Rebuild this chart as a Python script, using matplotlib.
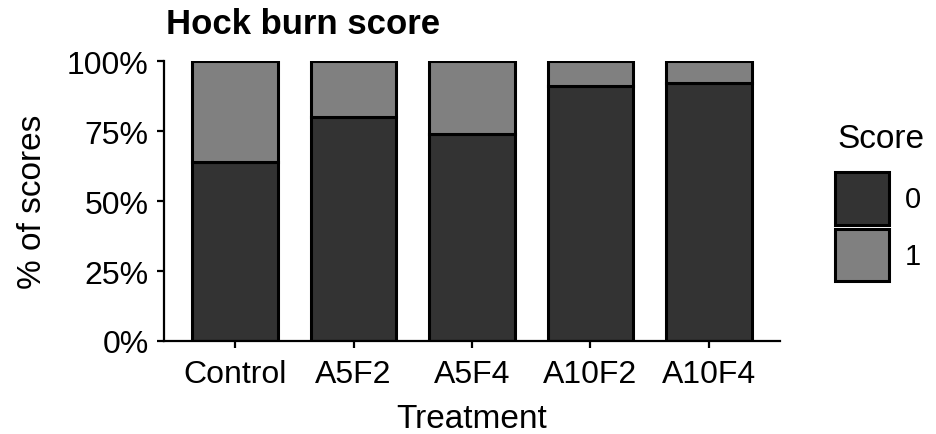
import matplotlib
matplotlib.use("Agg")
import matplotlib.pyplot as plt
from matplotlib.patches import Patch
from matplotlib.ticker import FuncFormatter

# Datos (porcentaje de cada puntuación por tratamiento)
tratamientos = ['Control', 'A5F2', 'A5F4', 'A10F2', 'A10F4']
score_0 = [64, 80, 74, 91, 92]
score_1 = [36, 20, 26, 9, 8]
etiquetas_score = ['0', '1']
colores = ['#333333', '#808080']

plt.rcParams['font.family'] = ['Liberation Sans', 'DejaVu Sans']

fig = plt.figure(figsize=(9.37, 4.35), dpi=100)
ax = fig.add_axes([164 / 937, 93 / 435, 616 / 937, 280 / 435])

x = list(range(len(tratamientos)))
ax.bar(x, score_0, width=0.72, color=colores[0], edgecolor='black', linewidth=2.2)
ax.bar(x, score_1, width=0.72, bottom=score_0, color=colores[1],
       edgecolor='black', linewidth=2.2)

ax.set_xlim(-0.6, len(tratamientos) - 0.4)
ax.set_ylim(0, 100)
ax.set_xticks(x)
ax.set_xticklabels(tratamientos)
ax.set_yticks([0, 25, 50, 75, 100])
ax.yaxis.set_major_formatter(FuncFormatter(lambda v, p: f"{int(v)}%"))

for lado in ['top', 'right']:
    ax.spines[lado].set_visible(False)
for lado in ['left', 'bottom']:
    ax.spines[lado].set_linewidth(1.6)
    ax.spines[lado].set_color('black')
ax.tick_params(axis='both', length=5, width=1.6, labelsize=23, colors='black')
ax.tick_params(axis='x', pad=8)
ax.tick_params(axis='y', pad=6)

ax.set_xlabel('Treatment', fontsize=24, labelpad=10)
ax.set_ylabel('% of scores', fontsize=24, labelpad=14)

fig.text(166 / 937, (435 - 34) / 435, 'Hock burn score', fontsize=25, fontweight='bold',
         ha='left', va='baseline')

# Leyenda: título aparte para controlar la separación con las cajas
fig.text(837 / 937, (435 - 148) / 435, 'Score', fontsize=24, ha='left', va='baseline')
handles = [Patch(facecolor=c, edgecolor='black', linewidth=2.2) for c in colores]
fig.legend(handles, etiquetas_score, loc='upper left',
           bbox_to_anchor=(835 / 937, (435 - 173) / 435), frameon=False,
           fontsize=21, handlelength=1.85, handleheight=2.4, borderpad=0,
           borderaxespad=0, labelspacing=0.14, handletextpad=0.55)

fig.savefig('out.png', dpi=100)
